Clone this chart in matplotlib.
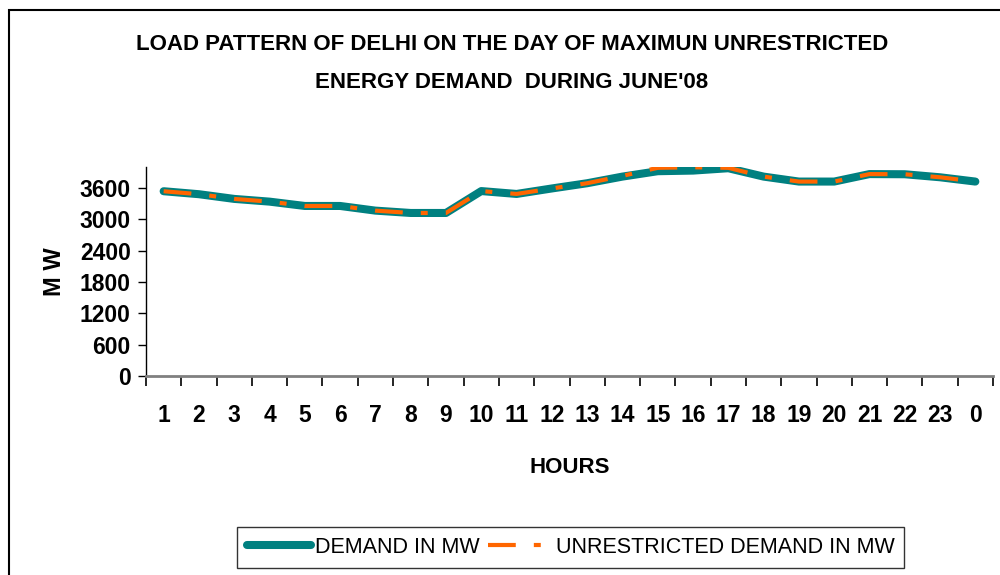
import numpy as np
import matplotlib
matplotlib.use("Agg")
import matplotlib.pyplot as plt
from matplotlib.patches import Rectangle
from matplotlib.ticker import FixedLocator

# === Data ===
hours = ["1", "2", "3", "4", "5", "6", "7", "8", "9", "10", "11", "12",
         "13", "14", "15", "16", "17", "18", "19", "20", "21", "22", "23", "0"]
demand = [3537, 3480, 3390, 3338, 3255, 3255, 3166, 3121, 3121, 3540, 3485, 3590,
          3690, 3817, 3920, 3932, 3977, 3817, 3722, 3722, 3865, 3862, 3804, 3722]
unrestricted = [3537, 3480, 3390, 3338, 3255, 3255, 3166, 3121, 3121, 3540, 3485, 3590,
                3690, 3830, 3985, 3995, 3985, 3817, 3722, 3722, 3865, 3862, 3804, 3722]
y_ticks = [0, 600, 1200, 1800, 2400, 3000, 3600]

TEAL = "#008080"
ORANGE = "#FF6600"
FONT = ["Liberation Sans", "DejaVu Sans"]

plt.rcParams["lines.scale_dashes"] = False

fig = plt.figure(figsize=(10, 5.75), dpi=100)
ax = fig.add_axes([0.146, 0.346, 0.847, 0.3635])

x = np.arange(len(hours))
ax.plot(x, demand, color=TEAL, lw=5.8, solid_capstyle="round",
        solid_joinstyle="round", label="DEMAND IN MW", zorder=3)
ax.plot(x, unrestricted, color=ORANGE, lw=3.0,
        linestyle=(0, (20, 13, 5, 13)), dash_capstyle="butt",
        label="UNRESTRICTED DEMAND IN MW", zorder=4)

ax.set_xlim(-0.5, len(hours) - 0.5)
ax.set_ylim(0, 4000)
ax.yaxis.set_major_locator(FixedLocator(y_ticks))
ax.set_xticks(x)
ax.set_xticklabels(hours)
ax.xaxis.set_minor_locator(FixedLocator(np.arange(-0.5, len(hours), 1.0)))

for s in ("top", "right"):
    ax.spines[s].set_visible(False)
ax.spines["left"].set_color("black")
ax.spines["left"].set_linewidth(1.0)
ax.spines["bottom"].set_color("#808080")
ax.spines["bottom"].set_linewidth(2.0)

ax.tick_params(axis="x", which="major", length=0, pad=20)
ax.tick_params(axis="x", which="minor", length=7, width=1.2, color="black",
               direction="out")
ax.tick_params(axis="y", length=6, width=1.0, direction="out", pad=5)
for lab in ax.get_xticklabels() + ax.get_yticklabels():
    lab.set_family(FONT)
    lab.set_fontweight("bold")
    lab.set_fontsize(16.5)

ax.set_xlabel("HOURS", family=FONT, fontweight="bold", fontsize=16, labelpad=22)
ax.set_ylabel("M W", family=FONT, fontweight="bold", fontsize=17, labelpad=10)

fig.text(0.512, 0.922, "LOAD PATTERN OF DELHI ON THE DAY OF MAXIMUN UNRESTRICTED",
         ha="center", va="center", family=FONT, fontweight="bold", fontsize=16)
fig.text(0.512, 0.857, "ENERGY DEMAND  DURING JUNE'08",
         ha="center", va="center", family=FONT, fontweight="bold", fontsize=16)

leg = fig.legend(loc="center", bbox_to_anchor=(0.5705, 0.0478), ncol=2,
                 prop={"family": FONT, "size": 15.5}, frameon=True, fancybox=False,
                 edgecolor="black", handlelength=3.0, handletextpad=0.15,
                 columnspacing=0.4, borderpad=0.45)
leg.get_frame().set_linewidth(1.0)

# outer chart border
fig.patches.append(Rectangle((0.009, -0.05), 1.5, 1.033, transform=fig.transFigure,
                             fill=False, edgecolor="black", lw=1.5))

fig.savefig("out.png", dpi=100)
